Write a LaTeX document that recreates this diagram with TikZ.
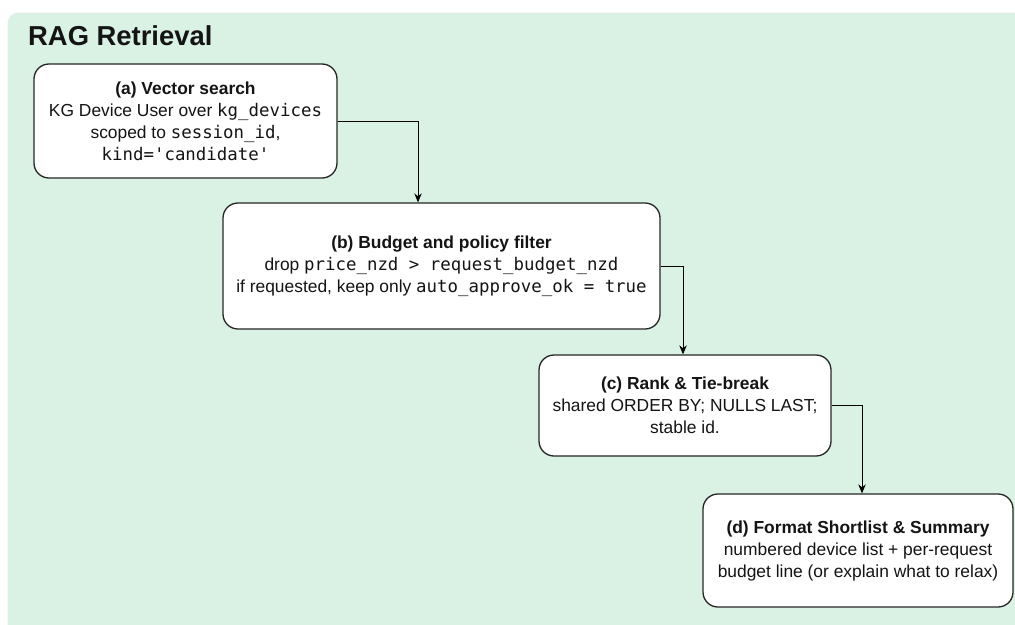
\documentclass[tikz,border=0pt]{standalone}
\usepackage{fontspec}
\setmainfont{Liberation Sans}
\setmonofont{DejaVu Sans Mono}
\usetikzlibrary{arrows.meta}
\definecolor{panelgreen}{RGB}{218,242,228}
\definecolor{boxline}{RGB}{38,38,38}
\definecolor{inktext}{RGB}{20,20,20}

\begin{document}
\begin{tikzpicture}[x=1pt,y=-1pt,
  stepbox/.style={draw=boxline, line width=1.3pt, fill=white,
    rounded corners=15pt, align=center, inner sep=0pt, text=inktext,
    font=\fontsize{17.4}{22}\selectfont},
  flow/.style={draw=black, line width=1pt,
    -{Stealth[length=9pt,width=7.5pt]}}]
\useasboundingbox (0,0) rectangle (1015,624);

% green panel, only its top-left corner visible as rounded
\begin{scope}
  \clip (0,0) rectangle (1015,624);
  \fill[panelgreen, draw=black!8, line width=0.8pt, rounded corners=10pt]
    (8,13) rectangle (1040,650);
\end{scope}

\node[anchor=base west, inner sep=0pt, text=inktext,
  font=\fontsize{27.4}{30}\selectfont\bfseries] (title) at (28,45) {RAG Retrieval};

\node[stepbox, minimum width=303pt, minimum height=114pt] (a) at (185.5,121)
  {\textbf{(a) Vector search}\\
   KG Device User over \texttt{kg\_devices}\\
   scoped to \texttt{session\_id},\\
   \texttt{kind='candidate'}};

\node[stepbox, minimum width=437pt, minimum height=126pt] (b) at (441.5,266)
  {\textbf{(b) Budget and policy filter}\\
   drop \texttt{price\_nzd > request\_budget\_nzd}\\
   if requested, keep only \texttt{auto\_approve\_ok = true}};

\node[stepbox, minimum width=292pt, minimum height=101pt] (c) at (685,405.5)
  {\textbf{(c) Rank \& Tie-break}\\
   shared ORDER BY; NULLS LAST;\\
   stable id.};

\node[stepbox, minimum width=310pt, minimum height=113pt] (d) at (858,550.5)
  {\textbf{(d) Format Shortlist \& Summary}\\
   numbered device list + per-request\\
   budget line (or explain what to relax)};

\draw[flow] (a.east) -| ([xshift=-23.5pt]b.north);
\draw[flow] (b.east) -| ([xshift=-2pt]c.north);
\draw[flow] (c.east) -| ([xshift=4pt]d.north);
\end{tikzpicture}
\end{document}
